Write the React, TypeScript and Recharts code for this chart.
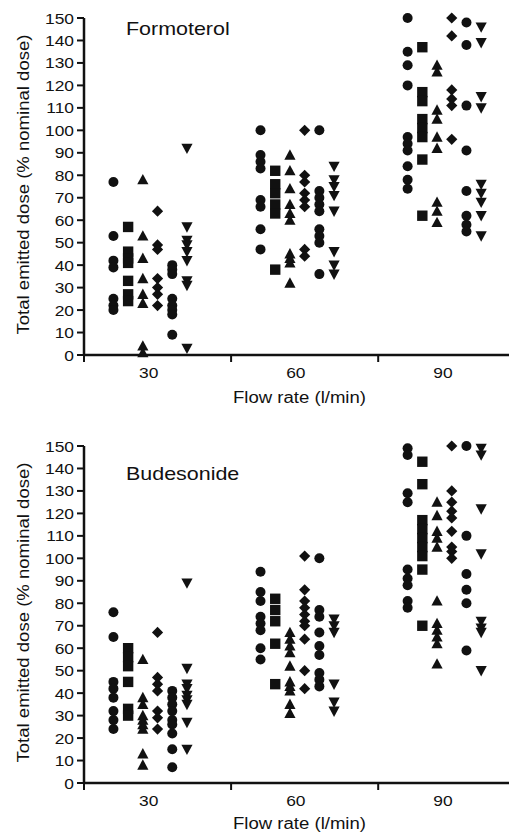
import React from 'react';
import { ScatterChart, Scatter, XAxis, YAxis } from 'recharts';

// ---------- data ----------
const FLOW_RATES = [30, 60, 90];
const Y_TICKS = [0, 10, 20, 30, 40, 50, 60, 70, 80, 90, 100, 110, 120, 130, 140, 150];

// Formoterol: each array holds [30 l/min values, 60 l/min values, 90 l/min values]
const formCircleA = [
  [77, 53, 42, 39, 25, 22, 20],
  [100, 89, 86, 83, 69, 66, 56, 47],
  [150, 135, 129, 120, 97, 94, 91, 84, 78, 74],
];
const formSquare = [
  [57, 46, 43, 41, 33, 27, 24],
  [82, 76, 72, 67, 63, 38],
  [137, 117, 113, 105, 101, 97, 87, 62],
];
const formTriangle = [
  [78, 53, 43, 34, 27, 23, 4, 1],
  [89, 82, 74, 67, 63, 60, 45, 43, 41, 32],
  [129, 126, 109, 105, 97, 92, 68, 64, 59],
];
const formDiamond = [
  [64, 49, 47, 34, 30, 27, 22],
  [100, 80, 77, 72, 69, 66, 47, 44],
  [150, 142, 118, 114, 111, 96],
];
const formCircleB = [
  [40, 38, 36, 25, 22, 20, 18, 9],
  [100, 73, 70, 67, 64, 56, 53, 50, 36],
  [148, 138, 111, 91, 73, 62, 58, 55],
];
const formTriangleDown = [
  [92, 57, 51, 49, 46, 42, 33, 31, 3],
  [84, 78, 75, 71, 64, 46, 40, 36],
  [146, 139, 115, 110, 76, 72, 68, 62, 53],
];

// Budesonide
const budCircleA = [
  [76, 65, 45, 42, 38, 32, 28, 24],
  [94, 85, 81, 74, 71, 68, 60, 55],
  [149, 146, 129, 125, 95, 91, 88, 81, 78],
];
const budSquare = [
  [60, 56, 52, 45, 33, 30],
  [82, 77, 72, 62, 44],
  [143, 133, 117, 113, 109, 105, 101, 95, 70],
];
const budTriangle = [
  [55, 38, 35, 30, 28, 26, 24, 13, 8],
  [67, 64, 61, 58, 52, 45, 43, 41, 35, 31],
  [125, 119, 112, 109, 105, 81, 71, 68, 65, 62, 53],
];
const budDiamond = [
  [67, 47, 44, 41, 32, 29, 24],
  [101, 86, 81, 78, 75, 72, 70, 64, 50, 42],
  [150, 130, 125, 121, 118, 112, 105, 103, 100],
];
const budCircleB = [
  [41, 38, 35, 32, 28, 26, 22, 15, 7],
  [100, 77, 74, 67, 61, 57, 49, 46, 43],
  [150, 110, 93, 86, 80, 59],
];
const budTriangleDown = [
  [89, 51, 44, 42, 39, 37, 35, 27, 15],
  [73, 70, 67, 44, 36, 32],
  [149, 146, 122, 102, 72, 69, 67, 50],
];

// ---------- styling ----------
const FONT = '"Liberation Sans", Arial, Helvetica, sans-serif';
const SX = 1.16;
const INK = '#111';
const OFFSETS = [0.2, 0.3, 0.4, 0.5, 0.6, 0.7];
const LABEL_POS = 0.44;
const X_TICKS = [0, LABEL_POS, 1, 1 + LABEL_POS, 2, 2 + LABEL_POS];

const toPoints = (groups: number[][], offset: number) =>
  groups.flatMap((vals, gi) => vals.map((v) => ({ x: gi + offset, y: v })));

const CircleShape = (p: any) => <circle cx={p.cx} cy={p.cy} r={5} fill={INK} />;
const SquareShape = (p: any) => <rect x={p.cx - 5.2} y={p.cy - 5.2} width={10.4} height={10.4} fill={INK} />;
const TriangleShape = (p: any) => (
  <polygon points={`${p.cx},${p.cy - 5.8} ${p.cx + 5.6},${p.cy + 4.6} ${p.cx - 5.6},${p.cy + 4.6}`} fill={INK} />
);
const TriangleDownShape = (p: any) => (
  <polygon points={`${p.cx},${p.cy + 5.8} ${p.cx + 5.6},${p.cy - 4.6} ${p.cx - 5.6},${p.cy - 4.6}`} fill={INK} />
);
const DiamondShape = (p: any) => (
  <polygon points={`${p.cx},${p.cy - 5.6} ${p.cx + 5.6},${p.cy} ${p.cx},${p.cy + 5.6} ${p.cx - 5.6},${p.cy}`} fill={INK} />
);
const SHAPES = [CircleShape, SquareShape, TriangleShape, DiamondShape, CircleShape, TriangleDownShape];

const XTick = (props: any) => {
  const { x, y, payload } = props;
  const v = payload.value;
  if (Number.isInteger(v)) {
    return <line x1={x} x2={x} y1={y} y2={y + 7} stroke={INK} strokeWidth={2} />;
  }
  const gi = Math.round(v - LABEL_POS);
  return (
    <text transform={`translate(${x},${y + 23}) scale(${SX},1)`} textAnchor="middle" fontSize={15} fontFamily={FONT} fill={INK}>
      {FLOW_RATES[gi]}
    </text>
  );
};

const YTick = (props: any) => {
  const { x, y, payload } = props;
  return (
    <g>
      <line x1={x - 7} x2={x} y1={y} y2={y} stroke={INK} strokeWidth={2} />
      <text transform={`translate(${x - 10},${y + 5.5}) scale(${SX},1)`} textAnchor="end" fontSize={15} fontFamily={FONT} fill={INK}>
        {payload.value}
      </text>
    </g>
  );
};

const W = 509;
const Y_AXIS_W = 76;

type PanelProps = {
  title: string;
  series: number[][][];
  height: number;
  top: number;
  xAxisH: number;
  bottom: number;
  titleDy: number;
  xTitleDy: number;
};

function Panel({ title, series, height, top, xAxisH, bottom, titleDy, xTitleDy }: PanelProps) {
  const plotBottom = height - bottom - xAxisH;
  const plotCenter = (top + plotBottom) / 2;
  return (
    <ScatterChart width={W} height={height} margin={{ top, right: 2, bottom, left: 0 }}>
      <XAxis
        type="number"
        dataKey="x"
        domain={[0, 2.93]}
        ticks={X_TICKS}
        interval={0}
        tick={<XTick />}
        tickLine={false}
        tickSize={0}
        tickMargin={0}
        height={xAxisH}
        axisLine={{ stroke: INK, strokeWidth: 2.5 }}
        allowDataOverflow
        label={() => (
          <text
            transform={`translate(${Y_AXIS_W + (W - 2 - Y_AXIS_W) / 2},${plotBottom + xTitleDy}) scale(${SX},1)`}
            textAnchor="middle"
            fontSize={16}
            fontFamily={FONT}
            fill={INK}
          >
            Flow rate (l/min)
          </text>
        )}
      />
      <YAxis
        type="number"
        dataKey="y"
        domain={[0, 150]}
        ticks={Y_TICKS}
        interval={0}
        tick={<YTick />}
        tickLine={false}
        tickSize={0}
        tickMargin={0}
        width={Y_AXIS_W}
        axisLine={{ stroke: INK, strokeWidth: 2.5 }}
        label={() => (
          <g>
            <text
              transform={`translate(15,${plotCenter - 2}) rotate(-90) scale(${SX},1)`}
              textAnchor="middle"
              dominantBaseline="central"
              fontSize={16}
              fontFamily={FONT}
              fill={INK}
            >
              Total emitted dose (% nominal dose)
            </text>
            <text
              transform={`translate(118,${top + titleDy}) scale(${SX},1)`}
              textAnchor="start"
              fontSize={18.5}
              fontFamily={FONT}
              fill={INK}
            >
              {title}
            </text>
          </g>
        )}
      />
      {series.map((groups, i) => (
        <Scatter
          key={i}
          data={toPoints(groups, OFFSETS[i])}
          shape={SHAPES[i]}
          fill={INK}
          isAnimationActive={false}
        />
      ))}
    </ScatterChart>
  );
}

export default function App() {
  return (
    <div style={{ width: W, background: '#fff' }}>
      <Panel
        title="Formoterol"
        series={[formCircleA, formSquare, formTriangle, formDiamond, formCircleB, formTriangleDown]}
        height={412}
        top={10}
        xAxisH={60}
        bottom={5}
        titleDy={17}
        xTitleDy={48}
      />
      <Panel
        title="Budesonide"
        series={[budCircleA, budSquare, budTriangle, budDiamond, budCircleB, budTriangleDown]}
        height={416}
        top={26}
        xAxisH={50}
        bottom={3}
        titleDy={34}
        xTitleDy={46}
      />
    </div>
  );
}
